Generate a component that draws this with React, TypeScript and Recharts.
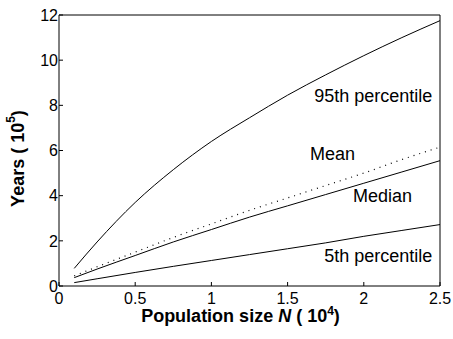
import React from 'react';
import { LineChart, Line, XAxis, YAxis, ReferenceDot } from 'recharts';

// population size N (x 10^4) and waiting times (x 10^5 years)
const popSize = [0.1, 0.25, 0.5, 0.75, 1, 1.25, 1.5, 1.75, 2, 2.25, 2.5];
const p95Years = [0.78, 1.95, 3.7, 5.15, 6.4, 7.45, 8.45, 9.35, 10.2, 11.0, 11.75];
const meanYears = [0.45, 0.85, 1.5, 2.15, 2.75, 3.35, 3.9, 4.45, 5.0, 5.6, 6.15];
const medianYears = [0.37, 0.75, 1.35, 1.95, 2.5, 3.05, 3.55, 4.05, 4.55, 5.05, 5.55];
const p5Years = [0.15, 0.32, 0.6, 0.87, 1.13, 1.39, 1.65, 1.91, 2.2, 2.46, 2.72];

const xTicks = [0, 0.5, 1, 1.5, 2, 2.5];
const yTicks = [0, 2, 4, 6, 8, 10, 12];

const data = popSize.map((n, i) => ({
  n,
  p95: p95Years[i],
  mean: meanYears[i],
  median: medianYears[i],
  p5: p5Years[i],
}));

const FONT = '"Liberation Sans", Arial, Helvetica, sans-serif';

const note = (text: string, anchor: 'start' | 'end') => (props: any) => {
  const x = props.viewBox?.x ?? 0;
  const y = props.viewBox?.y ?? 0;
  return (
    <text x={x} y={y} textAnchor={anchor} fill="#000" fontSize={18} fontFamily={FONT}>
      {text}
    </text>
  );
};

const YTitle = (props: any) => {
  const vb = props.viewBox || { x: 0, y: 0, width: 0, height: 0 };
  const cx = vb.x + 18;
  const cy = vb.y + vb.height / 2 + 8;
  return (
    <text
      x={cx}
      y={cy}
      transform={`rotate(-90 ${cx} ${cy})`}
      textAnchor="middle"
      dominantBaseline="central"
      fill="#000"
      fontSize={18}
      fontWeight="bold"
      fontFamily={FONT}
    >
      Years ( 10<tspan dy={-7} fontSize={12}>5</tspan>
      <tspan dy={7}>)</tspan>
    </text>
  );
};

const XTitle = (props: any) => {
  const vb = props.viewBox || { x: 0, y: 0, width: 0, height: 0 };
  return (
    <text
      x={vb.x + vb.width / 2 - 9}
      y={vb.y + 36}
      textAnchor="middle"
      fill="#000"
      fontSize={18}
      fontWeight="bold"
      fontFamily={FONT}
    >
      Population size <tspan fontStyle="italic">N</tspan> ( 10
      <tspan dy={-7} fontSize={12}>4</tspan>
      <tspan dy={7}>)</tspan>
    </text>
  );
};

const tickStyle = { fill: '#000', fontSize: 16, fontFamily: FONT };

export default function App() {
  return (
    <div style={{ position: 'absolute', left: 0, top: 0, width: 453, height: 339, background: '#fff' }}>
      <LineChart width={453} height={339} data={data} margin={{ top: 14, right: 12, bottom: 0, left: 0 }}>
        <XAxis
          dataKey="n"
          type="number"
          domain={[0, 2.5]}
          ticks={xTicks}
          interval={0}
          height={53}
          tickSize={-4}
          tickMargin={11}
          tick={tickStyle}
          axisLine={{ stroke: '#000' }}
          tickLine={{ stroke: '#000' }}
          label={<XTitle />}
        />
        <XAxis
          xAxisId="top"
          orientation="top"
          dataKey="n"
          type="number"
          domain={[0, 2.5]}
          ticks={xTicks}
          interval={0}
          height={1}
          tickSize={-4}
          tick={false}
          axisLine={{ stroke: '#000' }}
          tickLine={{ stroke: '#000' }}
        />
        <YAxis
          type="number"
          domain={[0, 12]}
          ticks={yTicks}
          interval={0}
          width={59}
          tickSize={-4}
          tickMargin={5}
          tick={tickStyle}
          axisLine={{ stroke: '#000' }}
          tickLine={{ stroke: '#000' }}
          label={<YTitle />}
        />
        <YAxis
          yAxisId="right"
          orientation="right"
          type="number"
          domain={[0, 12]}
          ticks={yTicks}
          interval={0}
          width={1}
          tickSize={-4}
          tick={false}
          axisLine={{ stroke: '#000' }}
          tickLine={{ stroke: '#000' }}
        />
        <Line type="monotone" dataKey="p95" stroke="#000" strokeWidth={1} dot={false} isAnimationActive={false} />
        <Line
          type="monotone"
          dataKey="mean"
          stroke="#000"
          strokeWidth={1.2}
          strokeDasharray="1 5"
          dot={false}
          isAnimationActive={false}
        />
        <Line type="monotone" dataKey="median" stroke="#000" strokeWidth={1} dot={false} isAnimationActive={false} />
        <Line type="monotone" dataKey="p5" stroke="#000" strokeWidth={1} dot={false} isAnimationActive={false} />

        <ReferenceDot x={2.45} y={8.15} r={0} label={note('95th percentile', 'end')} />
        <ReferenceDot x={1.647} y={5.58} r={0} label={note('Mean', 'start')} />
        <ReferenceDot x={1.929} y={3.73} r={0} label={note('Median', 'start')} />
        <ReferenceDot x={2.45} y={1.08} r={0} label={note('5th percentile', 'end')} />
      </LineChart>
    </div>
  );
}
